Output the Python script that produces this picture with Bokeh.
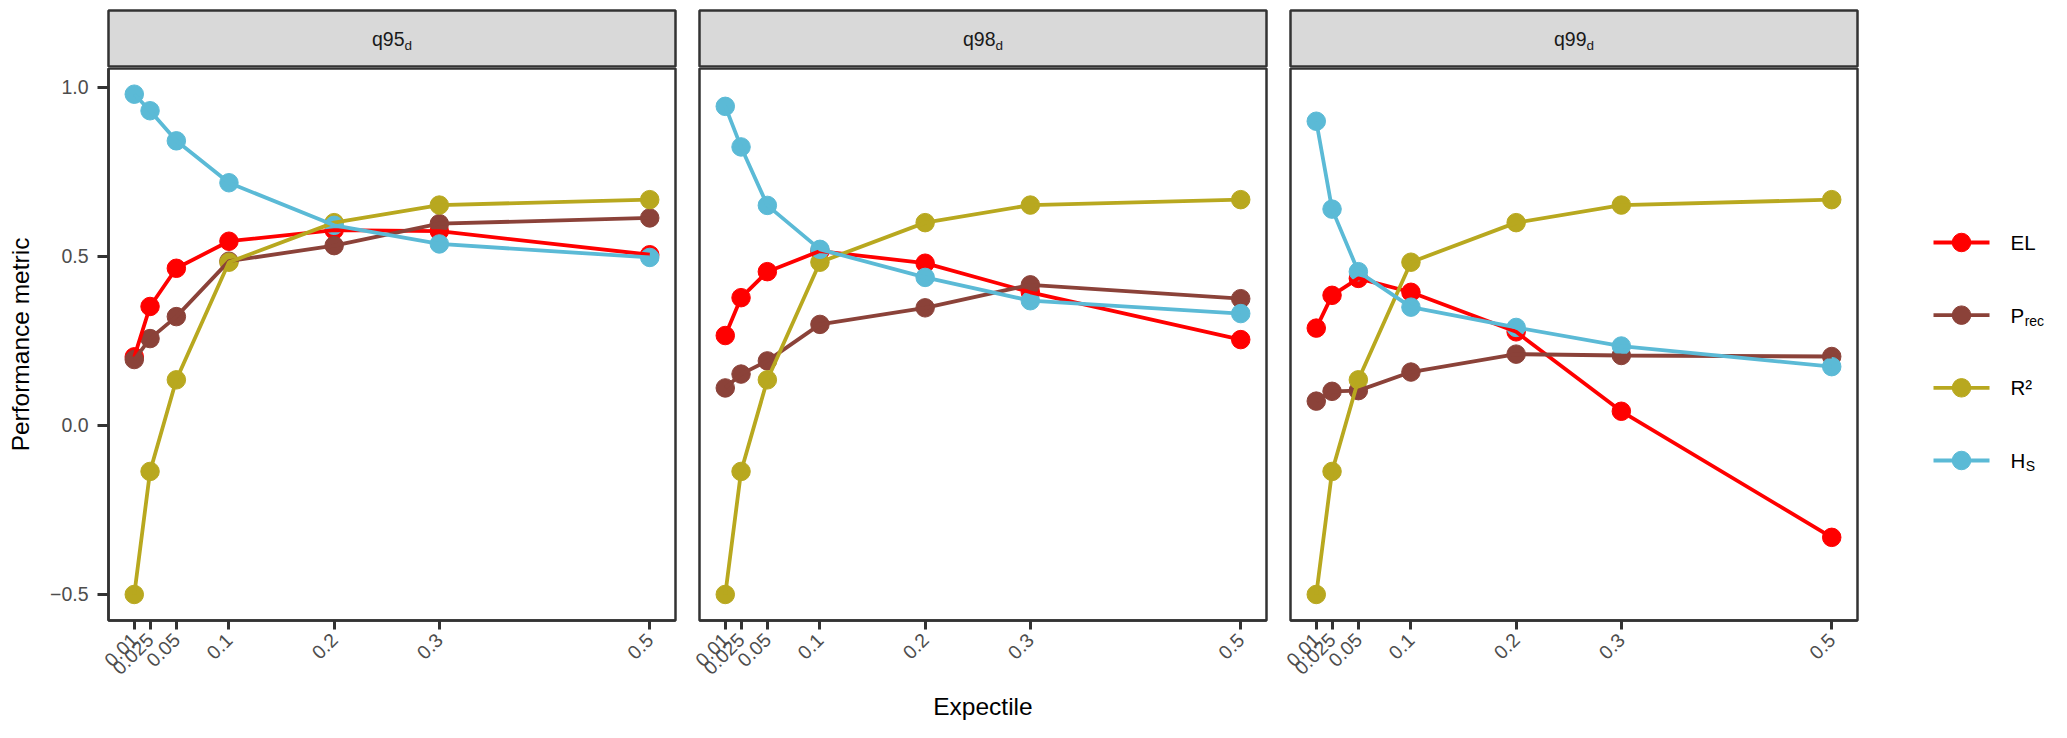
import math
from bokeh.plotting import figure
from bokeh.layouts import row, column
from bokeh.models import Range1d, FixedTicker, CustomJSTickFormatter, ColumnDataSource
from bokeh.core.properties import value
from bokeh.embed import file_html
from bokeh.resources import INLINE

# ---------------- data ----------------
expectiles = [0.01, 0.025, 0.05, 0.1, 0.2, 0.3, 0.5]
x_tick_labels = ["0.01", "0.025", "0.05", "0.1", "0.2", "0.3", "0.5"]
y_ticks = [-0.5, 0.0, 0.5, 1.0]
y_tick_labels = ["\u22120.5", "0.0", "0.5", "1.0"]

facets = ["q95", "q98", "q99"]
facet_sub = "d"

series_main = ["EL", "P", "R\u00b2", "H"]
series_sub = ["", "rec", "", "S"]
series_colors = ["#FF0000", "#8B4239", "#B8A81F", "#5BBAD6"]

r2_all = [-0.500, -0.136, 0.135, 0.483, 0.600, 0.652, 0.668]

el_q95 = [0.203, 0.352, 0.465, 0.545, 0.578, 0.575, 0.505]
prec_q95 = [0.195, 0.257, 0.322, 0.486, 0.532, 0.597, 0.614]
hs_q95 = [0.980, 0.931, 0.842, 0.718, 0.592, 0.537, 0.497]

el_q98 = [0.266, 0.378, 0.455, 0.516, 0.480, 0.394, 0.254]
prec_q98 = [0.111, 0.152, 0.191, 0.299, 0.348, 0.416, 0.375]
hs_q98 = [0.944, 0.824, 0.651, 0.521, 0.438, 0.369, 0.331]

el_q99 = [0.288, 0.385, 0.435, 0.394, 0.277, 0.042, -0.331]
prec_q99 = [0.072, 0.101, 0.103, 0.158, 0.211, 0.207, 0.204]
hs_q99 = [0.900, 0.640, 0.455, 0.350, 0.290, 0.235, 0.174]

panel_data = [
    [el_q95, prec_q95, r2_all, hs_q95],
    [el_q98, prec_q98, r2_all, hs_q98],
    [el_q99, prec_q99, r2_all, hs_q99],
]

# ---------------- style ----------------
FONT = "Liberation Sans"
FW, FH = 567, 552
STRIP_H = 57
BORDER = "#333333"
TICK_SIZE = "19.5px"
TITLE_SIZE = "24.5px"
LINE_W = 3.8
PT_SIZE = 18.5
# approx Helvetica advance widths (em)
ADV = {"q": 0.556, "9": 0.556, "5": 0.556, "8": 0.556, "E": 0.667, "L": 0.556,
       "P": 0.667, "R": 0.722, "\u00b2": 0.333, "H": 0.722}

FMT_CODE = ("const i = tvals.findIndex(t => Math.abs(t - tick) < 1e-9); "
            "return i >= 0 ? tlabels[i] : '';")


def text_w(s, px):
    return sum(ADV.get(c, 0.556) for c in s) * px


def style_axis(ax):
    ax.axis_line_color = BORDER
    ax.axis_line_width = 2.5
    ax.major_tick_line_color = BORDER
    ax.major_tick_line_width = 3
    ax.major_tick_in = 0
    ax.minor_tick_line_color = None
    ax.major_label_text_font = FONT
    ax.major_label_text_font_size = TICK_SIZE
    ax.major_label_text_color = "#4D4D4D"
    ax.axis_label_text_font = FONT
    ax.axis_label_text_font_size = TITLE_SIZE
    ax.axis_label_text_font_style = "normal"
    ax.axis_label_text_color = "#000000"


def make_strip(i):
    first = i == 0
    s = figure(frame_width=FW, frame_height=STRIP_H,
               x_range=Range1d(0, 1), y_range=Range1d(0, 1),
               x_axis_location=None, y_axis_location=None,
               min_border_left=108 if first else 22, min_border_right=2,
               min_border_top=10, min_border_bottom=0,
               output_backend="svg", toolbar_location=None)
    s.grid.visible = False
    s.background_fill_color = "#D9D9D9"
    s.outline_line_color = BORDER
    s.outline_line_width = 2.5
    main_px, sub_px = 19.5, 13.5
    total = text_w(facets[i], main_px) + text_w(facet_sub, sub_px)
    start = -total / 2
    s.text(x=[0.5], y=[0.5], text=[facets[i]], text_align="left", text_baseline="middle",
           x_offset=start, text_font=value(FONT), text_font_size=f"{main_px}px",
           text_color="#1A1A1A")
    s.text(x=[0.5], y=[0.5], text=[facet_sub], text_align="left", text_baseline="middle",
           x_offset=start + text_w(facets[i], main_px), y_offset=6,
           text_font=value(FONT), text_font_size=f"{sub_px}px", text_color="#1A1A1A")
    return s


def make_panel(i):
    first = i == 0
    p = figure(frame_width=FW, frame_height=FH,
               x_range=Range1d(-0.0145, 0.5245), y_range=Range1d(-0.577, 1.056),
               y_axis_location="left" if first else None,
               min_border_left=108 if first else 22, min_border_right=2,
               min_border_top=1, min_border_bottom=100,
               output_backend="svg", toolbar_location=None)
    p.grid.visible = False
    p.outline_line_color = BORDER
    p.outline_line_width = 2.5
    p.outline_line_alpha = 1.0

    xa = p.xaxis[0]
    style_axis(xa)
    xa.ticker = FixedTicker(ticks=expectiles)
    xa.formatter = CustomJSTickFormatter(args=dict(tvals=expectiles, tlabels=x_tick_labels),
                                         code=FMT_CODE)
    xa.major_label_orientation = math.pi / 4
    xa.major_tick_out = 9
    xa.major_label_standoff = 7
    if i == 1:
        xa.axis_label = "Expectile"
        xa.axis_label_standoff = 9

    if first:
        ya = p.yaxis[0]
        style_axis(ya)
        ya.ticker = FixedTicker(ticks=y_ticks)
        ya.formatter = CustomJSTickFormatter(args=dict(tvals=y_ticks, tlabels=y_tick_labels),
                                             code=FMT_CODE)
        ya.major_tick_out = 11
        ya.major_label_standoff = 9
        ya.axis_label = "Performance metric"
        ya.axis_label_standoff = 13

    srcs = [ColumnDataSource(dict(x=expectiles, y=vals)) for vals in panel_data[i]]
    # points first, lines on top (as in reference)
    for src, c in zip(srcs, series_colors):
        p.scatter("x", "y", source=src, marker="circle", size=PT_SIZE,
                  fill_color=c, line_color=c, line_width=1)
    for src, c in zip(srcs, series_colors):
        p.line("x", "y", source=src, line_color=c, line_width=LINE_W)
    return p


def make_legend():
    LW, LH = 192, 720
    lg = figure(frame_width=LW, frame_height=LH,
                x_range=Range1d(0, LW), y_range=Range1d(-3.578, 6.330),
                x_axis_location=None, y_axis_location=None,
                min_border_left=0, min_border_right=0, min_border_top=0, min_border_bottom=0,
                output_backend="svg", toolbar_location=None)
    lg.grid.visible = False
    lg.outline_line_color = None
    main_px, sub_px = 20.5, 14
    n = len(series_main)
    for k in range(n):
        yv = n - 1 - k
        c = series_colors[k]
        lg.line(x=[74, 130], y=[yv, yv], line_color=c, line_width=LINE_W)
        lg.scatter(x=[102], y=[yv], marker="circle", size=PT_SIZE, fill_color=c, line_color=c)
        lg.text(x=[151], y=[yv], text=[series_main[k]], text_align="left", text_baseline="middle",
                text_font=value(FONT), text_font_size=f"{main_px}px", text_color="#000000")
        if series_sub[k]:
            lg.text(x=[151], y=[yv], text=[series_sub[k]], text_align="left", text_baseline="middle",
                    x_offset=text_w(series_main[k], main_px) + 0.5, y_offset=6,
                    text_font=value(FONT), text_font_size=f"{sub_px}px", text_color="#000000")
    return lg


cols = [column(make_strip(i), make_panel(i)) for i in range(3)]
layout = row(*cols, make_legend())

open("out.html", "w").write(file_html(layout, INLINE))
